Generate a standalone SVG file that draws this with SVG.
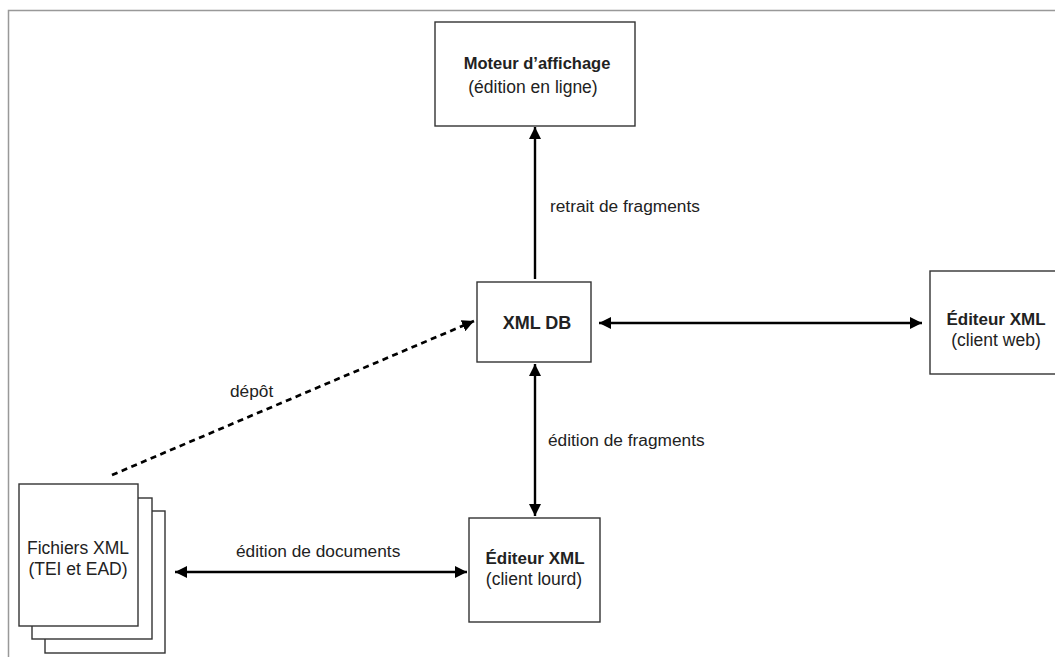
<svg xmlns="http://www.w3.org/2000/svg" width="1055" height="657" viewBox="0 0 1055 657">
<style>
.box{fill:#fff;stroke:#333;stroke-width:1.4}
.t{font-family:"Liberation Sans",Arial,sans-serif;font-size:17.5px;fill:#222;text-anchor:middle}
.b{font-weight:bold;font-size:16.5px}
.lbl{font-family:"Liberation Sans",Arial,sans-serif;font-size:17.3px;fill:#222}
.c{stroke:#000;stroke-width:2.4;fill:none}
.d{stroke-dasharray:6 4.5;stroke-width:2.7}
</style>
<defs>
<marker id="ah" viewBox="0 0 12 12" refX="12" refY="6" markerWidth="12" markerHeight="12" markerUnits="userSpaceOnUse" orient="auto-start-reverse">
<path d="M0,0 L12,6 L0,12 z" fill="#000"/>
</marker>
</defs>
<rect x="0" y="0" width="1055" height="657" fill="#fff"/>
<path d="M1055,10.5 H8.5 V657" fill="none" stroke="#999" stroke-width="1.5"/>
<g id="connectors">
<line class="c" x1="535" y1="279" x2="535" y2="127" marker-end="url(#ah)"/>
<line class="c" x1="599" y1="323" x2="922" y2="323" marker-start="url(#ah)" marker-end="url(#ah)"/>
<line class="c" x1="535" y1="364" x2="535" y2="516" marker-start="url(#ah)" marker-end="url(#ah)"/>
<line class="c" x1="175" y1="572" x2="467" y2="572" marker-start="url(#ah)" marker-end="url(#ah)"/>
<line class="c d" x1="112" y1="475" x2="474" y2="321" marker-end="url(#ah)"/>
<text class="lbl" x="550" y="212">retrait de fragments</text>
<text class="lbl" x="230" y="397">dépôt</text>
<text class="lbl" x="548" y="446">édition de fragments</text>
<text class="lbl" x="236" y="557">édition de documents</text>
</g>
<g id="moteur">
<rect class="box" x="435" y="22" width="200" height="104"/>
<text class="t b" x="537" y="69">Moteur d’affichage</text>
<text class="t" x="533" y="93">(édition en ligne)</text>
</g>
<g id="xmldb">
<rect class="box" x="477" y="282" width="114" height="80"/>
<text class="t b" x="537" y="329" style="font-size:18px">XML DB</text>
</g>
<g id="editeur-web">
<rect class="box" x="930" y="271" width="140" height="103"/>
<text class="t b" x="996" y="325" style="font-size:17px">Éditeur XML</text>
<text class="t" x="996" y="346">(client web)</text>
</g>
<g id="editeur-lourd">
<rect class="box" x="469" y="518" width="131" height="104"/>
<text class="t b" x="535" y="564" style="font-size:17px">Éditeur XML</text>
<text class="t" x="534" y="585">(client lourd)</text>
</g>
<g id="fichiers">
<rect class="box" x="45" y="511" width="120" height="142"/>
<rect class="box" x="32" y="498" width="120" height="141"/>
<rect class="box" x="19" y="484" width="119" height="142"/>
<text class="t" x="78" y="554">Fichiers XML</text>
<text class="t" x="78" y="575">(TEI et EAD)</text>
</g>
</svg>
